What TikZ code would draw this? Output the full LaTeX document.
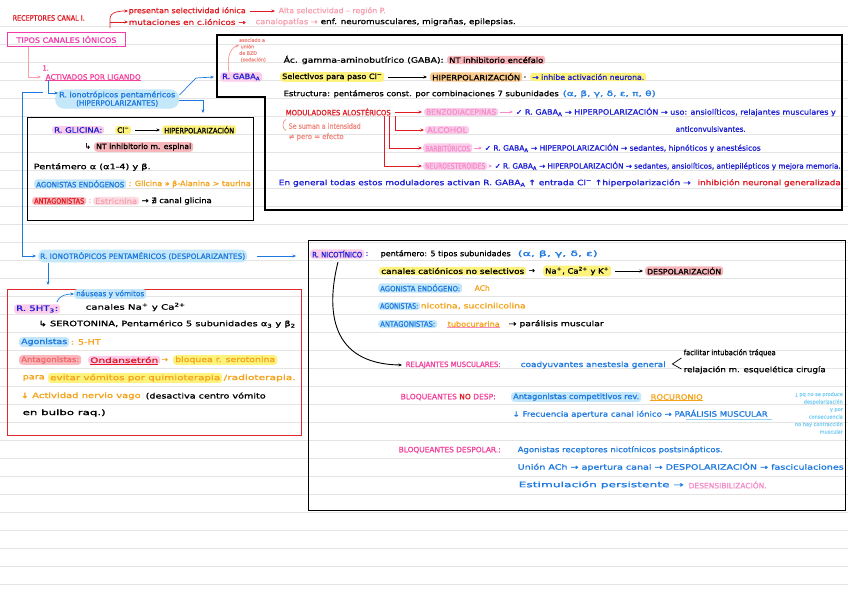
\documentclass[tikz,border=0pt]{standalone}
\usepackage{fontspec}
\setmainfont{DejaVu Sans}[FakeBold=1.2]
\usepackage{graphicx}
\usetikzlibrary{calc,arrows.meta}
\definecolor{redT}{HTML}{E01B24}
\definecolor{redB}{HTML}{E3262D}
\definecolor{pinkL}{HTML}{F7A1B0}
\definecolor{salT}{HTML}{F28B82}
\definecolor{salT2}{HTML}{F0696C}
\definecolor{magB}{HTML}{F03CAC}
\definecolor{pinkT}{HTML}{F2419B}
\definecolor{pinkM}{HTML}{F58CC8}
\definecolor{blueT}{HTML}{1F7AE0}
\definecolor{dblue}{HTML}{1D1FD6}
\definecolor{orT}{HTML}{F5A31A}
\definecolor{ltblue}{HTML}{7FD0F5}
\definecolor{hlP}{HTML}{FBCDEA}
\definecolor{hlPl}{HTML}{FCDDE4}
\definecolor{hlY}{HTML}{FCF27C}
\definecolor{hlO}{HTML}{F9C98C}
\definecolor{hlS}{HTML}{F9B7BB}
\definecolor{hlB}{HTML}{C4E7FA}
\definecolor{hlB2}{HTML}{8FD6F7}
\definecolor{gridc}{HTML}{E4E4E4}
\newcommand{\fs}{\fontsize{7.4}{8.4}\selectfont}
\newcommand{\sw}[2]{\resizebox{#1pt}{\height}{#2}}
\begin{document}
\begin{tikzpicture}[x=1pt,y=-1pt,
  tx/.style={anchor=west,inner sep=0.5pt,font=\fs},
  hl/.style={tx,rounded corners=3pt,inner xsep=2pt,inner ysep=1.2pt},
  ar/.style={-{Stealth[length=3.5pt,width=3pt]},line width=0.7pt}]
\fill[white] (0,0) rectangle (848,599);
\useasboundingbox (0,0) rectangle (848,599);
\foreach \k in {1,...,32} \draw[gridc,line width=0.6pt] (0,{8+18*\k}) -- (848,{8+18*\k});

% ---------- top ----------
\node[tx,text=redT] (rc) at (12,18) {\sw{72}{RECEPTORES CANAL I.}};
\node[tx,text=redT] (sel) at (128,11) {\sw{117}{presentan selectividad iónica}};
\node[tx,text=pinkL] (alta) at (278,11) {\sw{107}{Alta selectividad – región P.}};
\draw[ar,redT] ($(sel.east)+(4,0)$) -- ($(alta.west)+(-3,0)$);
\node[tx,text=redT] (mut) at (128,22) {\sw{117}{mutaciones en c.iónicos →}};
\node[tx,text=pinkL] (canal) at (255,22) {\sw{62}{canalopatías →}};
\node[tx] (enf) at (320,22) {\sw{195}{enf. neuromusculares, migrañas, epilepsias.}};
\coordinate (b1) at (110,28);
\coordinate (b2) at (110,22);
\draw[ar,redT] (b1) -- (110,19) to[out=90,in=180] (sel.west);
\draw[ar,redT] (b2) -- (mut.west);

\node[draw=magB,line width=1pt,text=magB,anchor=north west,minimum width=118,minimum height=14,inner sep=0,font=\fs] (tipos) at (7,32) {\sw{100}{TIPOS CANALES IÓNICOS}};
\node[tx,text=pinkT] (one) at (42,68) {\sw{6}{1.}};
\node[tx,text=pinkT] (lig) at (45,77) {\sw{95}{ACTIVADOS POR LIGANDO}};
\draw[pinkT,line width=0.7pt] (lig.south west) -- (lig.south east);
\draw[ar,pinkL,shorten >=4pt] ($(tipos.south west)+(21,0)$) |- (lig.west);

\node[fill=hlB,text=blueT,rounded corners=9pt,align=center,inner xsep=4pt,inner ysep=2pt,font=\fs,anchor=west] (ionoH) at (55,99) {\sw{116}{R. ionotrópicos pentaméricos}\\\sw{82}{(HIPERPOLARIZANTES)}};
\draw[ar,blueT] ($(lig.south west)+(3,0)$) |- ($(ionoH.west)+(3,-6)$);

% ---------- GABA box ----------
\draw[line width=1.3pt] (217,35) -- (842,35) -- (842,210) -- (265,210) -- (265,97) -- (217,97) -- cycle;
\node[hl,fill=hlP,text=dblue] (gabaA) at (220,77) {\sw{38}{R. GABA\textsubscript{A}}};
\coordinate (c1) at (196,78);
\coordinate (c2) at (203,113);
\draw[ar,blueT] ($(ionoH.east)+(0,-4)$) -- (c1) -- ($(gabaA.west)+(-6,0)$);
\draw[ar,blueT] ($(ionoH.east)+(0,1)$) -| (c2);
\node[anchor=north west,text=salT,font=\fontsize{4.8}{6.5}\selectfont,align=left,inner sep=0] (bzd) at (239,38) {asociado a\\\ unión\\de BZD\\\ (sedación)};
\draw[ar,salT,line width=0.6pt] ($(gabaA.north west)+(9,0)$) to[out=100,in=200] ($(bzd.north west)+(0,7)$);

\node[tx] (gaba) at (283,60) {\sw{160}{Ác. gamma-aminobutírico (GABA):}};
\node[hl,fill=hlS] (ntinh) at (447,60) {\sw{94}{NT inhibitorio encéfalo}};

\node[hl,fill=hlY] (selc) at (280,77) {\sw{100}{Selectivos para paso Cl\textsuperscript{−}}};
\node[hl,fill=hlO] (hiper1) at (430,77) {\sw{88}{HIPERPOLARIZACIÓN}};
\draw[ar] ($(selc.east)+(4,0)$) -- ($(hiper1.west)+(-3,0)$);
\node[tx] (dot1) at (523,77) {.};
\node[hl,fill=hlY,text=dblue] (inh) at (530,77) {\sw{112}{→ inhibe activación neurona.}};

\node[tx] (estr) at (283,94) {\sw{275}{Estructura: pentámeros const. por combinaciones 7 subunidades}};
\node[tx,text=blueT] (sub1) at (562,94) {\sw{93}{(α, β, γ, δ, ε, π, θ)}};

\node[tx,text=redT] (mod) at (285,112) {\sw{105}{MODULADORES ALOSTÉRICOS}};
\node[hl,fill=hlP,text=pinkM] (bzp) at (424,112) {\sw{70}{BENZODIACEPINAS}};
\draw[ar,redT] ($(mod.east)+(4,0)$) -- ($(bzp.west)+(-2,0)$);
\node[tx,text=dblue] (bzpt) at (515,112) {\sw{320}{✓ R. GABA\textsubscript{A} → HIPERPOLARIZACIÓN → uso: ansiolíticos, relajantes musculares y}};
\draw[ar,pinkM] ($(bzp.east)+(2,0)$) -- ($(bzpt.west)+(-2,0)$);
\node[tx,text=dblue] (anti) at (675,129) {\sw{70}{anticonvulsivantes.}};

\node[tx,text=salT] (suman) at (288,126) {\sw{72}{Se suman a intensidad}};
\node[tx,text=salT] (pero) at (288,137) {\sw{55}{≠ pero = efecto}};
\draw[salT,line width=0.6pt] ($(suman.north west)+(-2,-3)$) to[out=200,in=160] ($(suman.south west)+(-2,1)$);

\node[hl,fill=hlP,text=pinkM] (alc) at (425,130) {\sw{40}{ALCOHOL}};
\node[hl,fill=hlP,text=pinkM] (barb) at (423,148) {\sw{45}{BARBITÚRICOS}};
\node[hl,fill=hlP,text=pinkM] (neuro) at (423,166) {\sw{60}{NEUROESTEROIDES}};
\draw[ar,redT] ($(mod.south east)+(4,0)$) |- ($(alc.west)+(-1,0)$);
\draw[ar,redT] ($(mod.south east)+(-2,0)$) |- ($(barb.west)+(-1,0)$);
\draw[ar,redT] ($(mod.south east)+(-7,0)$) |- ($(neuro.west)+(-1,0)$);
\node[tx,text=dblue] (barbt) at (484,148) {\sw{276}{✓ R. GABA\textsubscript{A} → HIPERPOLARIZACIÓN → sedantes, hipnóticos y anestésicos}};
\draw[ar,pinkM] ($(barb.east)+(2,0)$) -- ($(barbt.west)+(-2,0)$);
\node[tx,text=dblue] (neurot) at (494,166) {\sw{346}{✓ R. GABA\textsubscript{A} → HIPERPOLARIZACIÓN → sedantes, ansiolíticos, antiepilépticos y mejora memoria.}};
\draw[ar,pinkM] ($(neuro.east)+(2,0)$) -- ($(neurot.west)+(-2,0)$);

\node[tx,text=dblue] (gen) at (278,183) {\sw{412}{En general todas estos moduladores activan R. GABA\textsubscript{A} ↑ entrada Cl\textsuperscript{−} ↑hiperpolarización →}};
\node[tx,text=redT] (inhgen) at (697,183) {\sw{143}{inhibición neuronal generalizada}};

% ---------- Glicina box ----------
\node[draw,line width=1.3pt,anchor=north west,minimum width=226,minimum height=103,inner sep=0] (glibox) at (27,117) {};
\node[hl,fill=hlP,text=dblue] (gli) at (52,130) {\sw{48}{R. GLICINA:}};
\node[hl,fill=hlY] (cl) at (115,130) {\sw{12}{Cl\textsuperscript{−}}};
\node[hl,fill=hlY] (hiper2) at (162,130) {\sw{70}{HIPERPOLARIZACIÓN}};
\draw[ar] ($(cl.east)+(4,0)$) -- ($(hiper2.west)+(-2,0)$);
\node[tx] (hook) at (84,146) {↳};
\node[hl,fill=hlS] (ntm) at (94,147) {\sw{95}{NT inhibitorio m. espinal}};
\node[tx] (pent) at (33,167) {\sw{117}{Pentámero α (α1-4) y β.}};
\node[hl,fill=hlB,text=blueT] (agoe) at (34,184) {\sw{88}{AGONISTAS ENDÓGENOS}};
\node[tx,text=orT] (agoet) at (128,184) {\sw{122}{: Glicina >> β-Alanina > taurina}};
\node[hl,fill=hlS,text=redT] (antg) at (32,201) {\sw{50}{ANTAGONISTAS}};
\node[tx,text=pinkL] (colg) at (88,201) {:};
\node[hl,fill=hlPl,text=pinkL] (estric) at (93,201) {\sw{42}{Estricnina}};
\node[tx] (nocan) at (141,201) {\sw{70}{→ ∄ canal glicina}};

% ---------- despolarizantes ----------
\node[hl,fill=hlB,text=blueT,rounded corners=6pt,inner ysep=2.5pt] (ionoD) at (38,256) {\sw{205}{R. IONOTRÓPICOS PENTAMÉRICOS (DESPOLARIZANTES)}};
\coordinate (c3) at (43,92);
\coordinate (c4) at (22,256);
\draw[ar,blueT] (c3) -| (c4) -- ($(ionoD.west)+(-2,0)$);
\coordinate (c5) at (296,256);
\draw[ar,blueT] ($(ionoD.east)+(10,0)$) -- (c5);
\coordinate (c6) at (48,285);
\draw[ar,blueT] ($(ionoD.south west)+(10,0)$) -- (c6);

% ---------- 5-HT3 box ----------
\node[draw=redB,line width=1.3pt,anchor=north west,minimum width=294,minimum height=146,inner sep=0] (htbox) at (7,289) {};
\node[hl,fill=hlB,text=blueT] (nau) at (74,294) {\sw{68}{náuseas y vómitos}};
\coordinate (c7) at (57,302);
\draw[ar,blueT] (c7) to[out=70,in=180] (nau.west);
\node[hl,fill=hlP,text=dblue] (ht3) at (14,309) {\sw{42}{R. 5HT\textsubscript{3}:}};
\node[tx] (can) at (85,307) {\sw{100}{canales Na\textsuperscript{+} y Ca\textsuperscript{2+}}};
\node[tx] (sero) at (38,324) {\sw{257}{↳ SEROTONINA, Pentamérico 5 subunidades α\textsubscript{3} y β\textsubscript{2}}};
\node[hl,fill=hlB,text=blueT] (ago) at (19,342) {\sw{46}{Agonistas}};
\node[tx,text=orT] (agot) at (70,342) {\sw{30}{: 5-HT}};
\node[hl,fill=hlS,text=salT2] (antag) at (19,360) {\sw{58}{Antagonistas:}};
\node[hl,fill=hlP,text=redT] (ond) at (88,360) {\sw{68}{Ondansetrón}};
\draw[redT,line width=0.8pt] ($(ond.south west)+(2,0)$) -- ($(ond.south east)+(-2,0)$);
\node[tx,text=orT] (arr5) at (161,360) {→};
\node[hl,fill=hlY,text=orT] (bloq) at (173,360) {\sw{100}{bloquea r. serotonina}};
\node[tx,text=orT] (para) at (22,378) {\sw{22}{para}};
\node[hl,fill=hlY,text=orT] (evit) at (48,378) {\sw{170}{evitar vómitos por quimioterapia}};
\node[tx,text=orT] (radio) at (223,378) {\sw{72}{/radioterapia.}};
\node[tx,text=orT] (vago) at (20,396) {\sw{120}{↓ Actividad nervio vago}};
\node[tx] (desac) at (145,396) {\sw{120}{(desactiva centro vómito}};
\node[tx] (bulbo) at (22,413) {\sw{83}{en bulbo raq.)}};

% ---------- nicotinic box ----------
\node[draw,line width=1.3pt,anchor=north west,minimum width=537,minimum height=270,inner sep=0] (nicbox) at (308,240) {};
\node[hl,fill=hlP,text=dblue] (nic) at (310,254) {\sw{50}{R. NICOTÍNICO}};
\node[tx,text=dblue] (nicc) at (365,254) {:};
\node[tx] (pentn) at (380,254) {\sw{130}{pentámero: 5 tipos subunidades}};
\node[tx,text=blueT] (subn) at (517,254) {\sw{80}{(α, β, γ, δ, ε)}};
\node[hl,fill=hlY] (cat) at (379,271) {\sw{143}{canales catiónicos no selectivos}};
\node[tx] (arr6) at (528,271) {→};
\node[hl,fill=hlY] (ions) at (543,271) {\sw{64}{Na\textsuperscript{+}, Ca\textsuperscript{2+} y K\textsuperscript{+}}};
\node[hl,fill=hlS] (desp) at (645,271) {\sw{74}{DESPOLARIZACIÓN}};
\draw[ar] ($(ions.east)+(4,0)$) -- ($(desp.west)+(-2,0)$);
\node[hl,fill=hlB,text=blueT] (agen) at (378,288) {\sw{80}{AGONISTA ENDÓGENO:}};
\node[tx,text=orT] (ach) at (474,288) {\sw{15}{ACh}};
\node[hl,fill=hlB,text=blueT] (agn) at (378,306) {\sw{38}{AGONISTAS:}};
\node[tx,text=orT] (nico) at (420,306) {\sw{105}{nicotina, succinilcolina}};
\node[hl,fill=hlB,text=blueT] (antn) at (378,324) {\sw{55}{ANTAGONISTAS:}};
\node[tx,text=orT] (tubo) at (447,324) {\sw{52}{tubocurarina}};
\draw[pinkM,line width=0.8pt] (tubo.south west) -- (tubo.south east);
\node[tx] (par) at (508,324) {\sw{95}{→ parálisis muscular}};

\node[tx,text=pinkT] (relaj) at (405,365) {\sw{95}{RELAJANTES MUSCULARES:}};
\draw[ar,line width=0.9pt] ($(nic.south west)+(28,3)$) .. controls (326,310) and (330,364) .. ($(relaj.west)+(-3,0)$);
\node[tx,text=blueT] (coad) at (520,365) {\sw{145}{coadyuvantes anestesia general}};
\draw[line width=0.7pt] ($(coad.east)+(15,-7)$) -- ($(coad.east)+(6,-1)$) -- ($(coad.east)+(15,4)$);
\node[tx] (fac) at (683,353) {\sw{92}{facilitar intubación tráquea}};
\node[tx] (rel) at (683,370) {\sw{142}{relajación m. esquelética cirugía}};

\node[tx,text=pinkT] (bnd) at (400,397) {\sw{95}{BLOQUEANTES \textcolor{redT}{NO} DESP:}};
\node[hl,fill=hlB,text=blueT] (antc) at (511,397) {\sw{126}{Antagonistas competitivos rev.}};
\node[tx,text=orT] (roc) at (650,397) {\sw{52}{ROCURONIO}};
\draw[orT,line width=0.8pt] (roc.south west) -- (roc.south east);
\node[tx,text=blueT] (frec) at (512,414) {\sw{255}{↓ Frecuencia apertura canal iónico → PARÁLISIS MUSCULAR}};
\draw[hlB2,line width=0.8pt] ($(frec.south east)+(-82,0)$) -- ($(frec.south east)+(4,0)$);
\node[anchor=north east,align=right,text=ltblue,font=\fontsize{5}{7.5}\selectfont,inner sep=0] (why) at (843,392) {¿ pq no se produce\\despolarización\\y por\\consecuencia\\no hay contracción\\muscular};

\node[tx,text=pinkT] (bd) at (398,450) {\sw{102}{BLOQUEANTES DESPOLAR.:}};
\node[tx,text=blueT] (agr) at (517,450) {\sw{205}{Agonistas receptores nicotínicos postsinápticos.}};
\node[tx,text=blueT] (union) at (517,467) {\sw{326}{Unión ACh → apertura canal → DESPOLARIZACIÓN → fasciculaciones}};
\node[tx,text=blueT] (estim) at (518,485) {\sw{165}{Estimulación persistente →}};
\node[tx,text=pinkM] (desens) at (688,485) {\sw{78}{DESENSIBILIZACIÓN.}};
\end{tikzpicture}
\end{document}
